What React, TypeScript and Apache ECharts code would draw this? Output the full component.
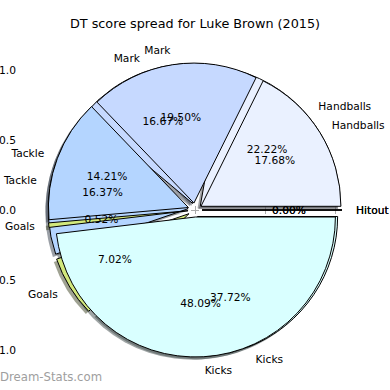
import React, { useEffect, useRef } from "react";
import * as echarts from "echarts";

// ---- data ----
const categories = ["Handballs", "Mark", "Tackle", "Goals", "Kicks", "Hitout"];
const pointsFirst = [76, 57, 56, 24, 129, 0]; // drawn first (underneath)
const pointsSecond = [204, 225, 164, 6, 555, 0]; // drawn on top
const sliceColors = ["#eaf1ff", "#c6d9ff", "#b4d5ff", "#d2e87c", "#d9ffff", "#ffffff"];
const tickValues = [-1, -0.5, 0, 0.5, 1];
const titleText = "DT score spread for Luke Brown (2015)";
const watermarkText = "Dream-Stats.com";

// ---- layout ----
const CX = 195;
const CY = 210;
const R = 140;
const EXPLODE = 7;
const SHADOW = 2.8;
const LIM = 172 / 140;
const FONT = "DejaVu Sans";

function shadowColor(hex: string): string {
  const r = parseInt(hex.slice(1, 3), 16);
  const g = parseInt(hex.slice(3, 5), 16);
  const b = parseInt(hex.slice(5, 7), 16);
  return `rgba(${Math.round(r * 0.3)},${Math.round(g * 0.3)},${Math.round(b * 0.3)},0.5)`;
}

function fmtTick(v: number): string {
  const s = Math.abs(v).toFixed(1);
  return v < 0 ? "\u2212" + s : s;
}

const basePie = {
  type: "pie",
  startAngle: 0,
  clockwise: false,
  selectedMode: "multiple",
  selectedOffset: EXPLODE,
  avoidLabelOverlap: false,
  silent: true,
  animation: false,
  emphasis: { disabled: true },
  labelLayout: { hideOverlap: false },
};

function shadowSeries(vals: number[], z: number) {
  return {
    ...basePie,
    z,
    center: [CX - SHADOW, CY + SHADOW],
    radius: R,
    label: { show: false },
    labelLine: { show: false },
    data: vals.map((v, i) => ({
      name: categories[i],
      value: v,
      selected: true,
      itemStyle: { color: shadowColor(sliceColors[i]), borderWidth: 0 },
    })),
  };
}

function mainSeries(vals: number[], z: number) {
  return {
    ...basePie,
    z,
    center: [CX, CY],
    radius: R,
    label: {
      show: true,
      position: "outside",
      color: "#000",
      fontFamily: FONT,
      fontSize: 10.67,
      distanceToLabelLine: 0,
      formatter: "{b}",
    },
    labelLine: { show: false, length: 0.1 * R, length2: 0 },
    data: vals.map((v, i) => ({
      name: categories[i],
      value: v,
      selected: true,
      itemStyle: { color: sliceColors[i], borderColor: "#000", borderWidth: 1 },
    })),
  };
}

function pctSeries(vals: number[], z: number) {
  const total = vals.reduce((a, b) => a + b, 0);
  return {
    ...basePie,
    z,
    center: [CX, CY],
    radius: 2 * 0.6 * R,
    label: {
      show: true,
      position: "inside",
      color: "#000",
      fontFamily: FONT,
      fontSize: 10.67,
      formatter: (p: any) => ((p.value / total) * 100).toFixed(2) + "%",
    },
    labelLine: { show: false },
    data: vals.map((v, i) => ({
      name: categories[i],
      value: v,
      selected: true,
      itemStyle: { color: "rgba(0,0,0,0)", borderWidth: 0 },
    })),
  };
}

function axis(position: string, showLabel: boolean) {
  return {
    type: "value",
    position,
    min: -LIM,
    max: LIM,
    axisLine: { show: false },
    splitLine: { show: false },
    axisTick: {
      show: true,
      inside: false,
      length: 4,
      customValues: tickValues,
      lineStyle: { color: "#aaaaaa", width: 1 },
    },
    axisLabel: {
      show: showLabel,
      customValues: tickValues,
      formatter: (v: number) => fmtTick(v),
      color: "#000",
      fontFamily: FONT,
      fontSize: 10.67,
      margin: 7,
    },
  };
}

export default function App() {
  const ref = useRef<HTMLDivElement>(null);
  useEffect(() => {
    if (!ref.current) return;
    const chart = echarts.init(ref.current, undefined, { renderer: "svg" });
    chart.setOption({
      animation: false,
      backgroundColor: "#ffffff",
      title: {
        text: titleText,
        left: "center",
        top: 17,
        padding: 0,
        textStyle: { fontFamily: FONT, fontSize: 12.8, fontWeight: "normal", color: "#000" },
      },
      grid: {
        left: 23,
        top: 38,
        width: 344,
        height: 344,
        containLabel: false,
        outerBoundsMode: "none",
      },
      xAxis: [axis("bottom", true), axis("top", false)],
      yAxis: [axis("left", true), axis("right", false)],
      graphic: [
        {
          type: "text",
          left: 0,
          top: 371,
          silent: true,
          z: 10,
          style: { text: watermarkText, fill: "#9e9e9e", font: `11.7px "${FONT}"` },
        },
      ],
      series: [
        shadowSeries(pointsFirst, 1),
        shadowSeries(pointsSecond, 1),
        mainSeries(pointsFirst, 2),
        mainSeries(pointsSecond, 2),
        pctSeries(pointsFirst, 4),
        pctSeries(pointsSecond, 4),
      ],
    });
    return () => chart.dispose();
  }, []);
  return (
    <div
      ref={ref}
      style={{ position: "fixed", left: 0, top: 0, width: 390, height: 390 }}
    />
  );
}
